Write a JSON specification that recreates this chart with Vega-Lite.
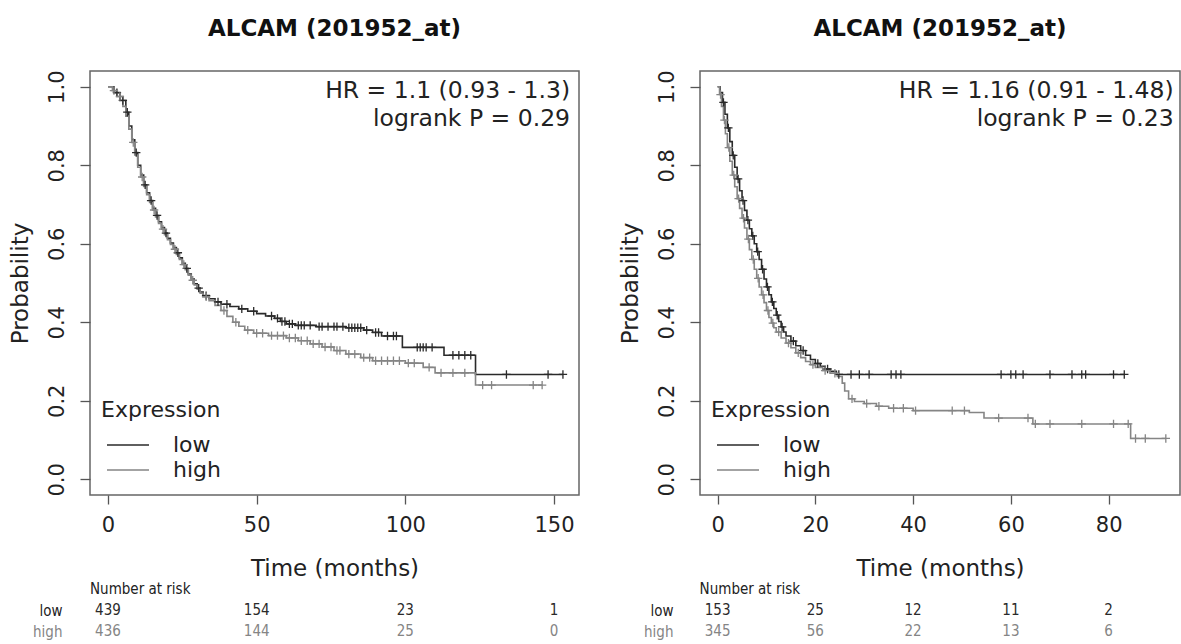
{
  "$schema": "https://vega.github.io/schema/vega-lite/v6.json",
  "padding": {"left": 8, "top": 17, "right": 0, "bottom": 0},
  "background": "white",
  "bounds": "flush",
  "spacing": 121,
  "config": {
    "font": "DejaVu Sans",
    "view": {"stroke": "#666666", "strokeWidth": 1.5},
    "axis": {"labelFont": "DejaVu Sans", "titleFont": "DejaVu Sans", "labelColor": "#222222", "titleColor": "#222222", "titleFontWeight": "normal", "grid": false, "domain": false, "tickColor": "#555555", "tickWidth": 1.3},
    "title": {"font": "DejaVu Sans", "fontSize": 23, "fontWeight": "bold", "color": "#111111", "anchor": "middle", "offset": 29}
  },
  "datasets": {
    "km": [
      {"p":"A","g":"low","t":0,"s":1,"c":0},{"p":"A","g":"low","t":2,"s":0.985,"c":0},{"p":"A","g":"low","t":4,"s":0.965,"c":0},{"p":"A","g":"low","t":6,"s":0.935,"c":0},{"p":"A","g":"low","t":7,"s":0.9,"c":0},{"p":"A","g":"low","t":8,"s":0.865,"c":0},{"p":"A","g":"low","t":9,"s":0.832,"c":0},{"p":"A","g":"low","t":10,"s":0.8,"c":0},{"p":"A","g":"low","t":11,"s":0.775,"c":0},{"p":"A","g":"low","t":12,"s":0.75,"c":0},{"p":"A","g":"low","t":13,"s":0.73,"c":0},{"p":"A","g":"low","t":14,"s":0.71,"c":0},{"p":"A","g":"low","t":15,"s":0.69,"c":0},{"p":"A","g":"low","t":16,"s":0.672,"c":0},{"p":"A","g":"low","t":17,"s":0.656,"c":0},{"p":"A","g":"low","t":18,"s":0.641,"c":0},{"p":"A","g":"low","t":19,"s":0.627,"c":0},{"p":"A","g":"low","t":20,"s":0.614,"c":0},{"p":"A","g":"low","t":21,"s":0.602,"c":0},{"p":"A","g":"low","t":22,"s":0.59,"c":0},{"p":"A","g":"low","t":23,"s":0.577,"c":0},{"p":"A","g":"low","t":24,"s":0.564,"c":0},{"p":"A","g":"low","t":25,"s":0.55,"c":0},{"p":"A","g":"low","t":26,"s":0.537,"c":0},{"p":"A","g":"low","t":27,"s":0.523,"c":0},{"p":"A","g":"low","t":28,"s":0.51,"c":0},{"p":"A","g":"low","t":29,"s":0.498,"c":0},{"p":"A","g":"low","t":30,"s":0.487,"c":0},{"p":"A","g":"low","t":31,"s":0.477,"c":0},{"p":"A","g":"low","t":32,"s":0.468,"c":0},{"p":"A","g":"low","t":34,"s":0.46,"c":0},{"p":"A","g":"low","t":36,"s":0.452,"c":0},{"p":"A","g":"low","t":38,"s":0.446,"c":0},{"p":"A","g":"low","t":41,"s":0.44,"c":0},{"p":"A","g":"low","t":44,"s":0.434,"c":0},{"p":"A","g":"low","t":47,"s":0.428,"c":0},{"p":"A","g":"low","t":50,"s":0.422,"c":0},{"p":"A","g":"low","t":53,"s":0.416,"c":0},{"p":"A","g":"low","t":56,"s":0.41,"c":0},{"p":"A","g":"low","t":58,"s":0.402,"c":0},{"p":"A","g":"low","t":60,"s":0.396,"c":0},{"p":"A","g":"low","t":63,"s":0.392,"c":0},{"p":"A","g":"low","t":70,"s":0.389,"c":0},{"p":"A","g":"low","t":80,"s":0.386,"c":0},{"p":"A","g":"low","t":86,"s":0.38,"c":0},{"p":"A","g":"low","t":89,"s":0.374,"c":0},{"p":"A","g":"low","t":92,"s":0.365,"c":0},{"p":"A","g":"low","t":99,"s":0.336,"c":0},{"p":"A","g":"low","t":113,"s":0.316,"c":0},{"p":"A","g":"low","t":123.6,"s":0.267,"c":0},
      {"p":"A","g":"low","t":3,"s":0.985,"c":1},{"p":"A","g":"low","t":5,"s":0.965,"c":1},{"p":"A","g":"low","t":6.5,"s":0.935,"c":1},{"p":"A","g":"low","t":9.5,"s":0.832,"c":1},{"p":"A","g":"low","t":12.5,"s":0.75,"c":1},{"p":"A","g":"low","t":14.5,"s":0.71,"c":1},{"p":"A","g":"low","t":16.5,"s":0.672,"c":1},{"p":"A","g":"low","t":19.5,"s":0.627,"c":1},{"p":"A","g":"low","t":23.5,"s":0.577,"c":1},{"p":"A","g":"low","t":26.5,"s":0.537,"c":1},{"p":"A","g":"low","t":30.5,"s":0.487,"c":1},{"p":"A","g":"low","t":33,"s":0.468,"c":1},{"p":"A","g":"low","t":37,"s":0.452,"c":1},{"p":"A","g":"low","t":40,"s":0.446,"c":1},{"p":"A","g":"low","t":45,"s":0.434,"c":1},{"p":"A","g":"low","t":49,"s":0.428,"c":1},{"p":"A","g":"low","t":55,"s":0.416,"c":1},{"p":"A","g":"low","t":57,"s":0.41,"c":1},{"p":"A","g":"low","t":58.5,"s":0.402,"c":1},{"p":"A","g":"low","t":59.5,"s":0.402,"c":1},{"p":"A","g":"low","t":61,"s":0.396,"c":1},{"p":"A","g":"low","t":62,"s":0.396,"c":1},{"p":"A","g":"low","t":64,"s":0.392,"c":1},{"p":"A","g":"low","t":65,"s":0.392,"c":1},{"p":"A","g":"low","t":66,"s":0.392,"c":1},{"p":"A","g":"low","t":68,"s":0.392,"c":1},{"p":"A","g":"low","t":71,"s":0.389,"c":1},{"p":"A","g":"low","t":72,"s":0.389,"c":1},{"p":"A","g":"low","t":74,"s":0.389,"c":1},{"p":"A","g":"low","t":76,"s":0.389,"c":1},{"p":"A","g":"low","t":77,"s":0.389,"c":1},{"p":"A","g":"low","t":79,"s":0.389,"c":1},{"p":"A","g":"low","t":81,"s":0.386,"c":1},{"p":"A","g":"low","t":82,"s":0.386,"c":1},{"p":"A","g":"low","t":83,"s":0.386,"c":1},{"p":"A","g":"low","t":84,"s":0.386,"c":1},{"p":"A","g":"low","t":85,"s":0.386,"c":1},{"p":"A","g":"low","t":87,"s":0.38,"c":1},{"p":"A","g":"low","t":90,"s":0.374,"c":1},{"p":"A","g":"low","t":91,"s":0.374,"c":1},{"p":"A","g":"low","t":94,"s":0.365,"c":1},{"p":"A","g":"low","t":96,"s":0.365,"c":1},{"p":"A","g":"low","t":97,"s":0.365,"c":1},{"p":"A","g":"low","t":104,"s":0.336,"c":1},{"p":"A","g":"low","t":105,"s":0.336,"c":1},{"p":"A","g":"low","t":106,"s":0.336,"c":1},{"p":"A","g":"low","t":107,"s":0.336,"c":1},{"p":"A","g":"low","t":109,"s":0.336,"c":1},{"p":"A","g":"low","t":116,"s":0.316,"c":1},{"p":"A","g":"low","t":118,"s":0.316,"c":1},{"p":"A","g":"low","t":120,"s":0.316,"c":1},{"p":"A","g":"low","t":122,"s":0.316,"c":1},{"p":"A","g":"low","t":134,"s":0.267,"c":1},{"p":"A","g":"low","t":148,"s":0.267,"c":1},{"p":"A","g":"low","t":153,"s":0.267,"c":1},
      {"p":"A","g":"high","t":0,"s":1,"c":0},{"p":"A","g":"high","t":1.5,"s":0.99,"c":0},{"p":"A","g":"high","t":3,"s":0.975,"c":0},{"p":"A","g":"high","t":5,"s":0.95,"c":0},{"p":"A","g":"high","t":6,"s":0.925,"c":0},{"p":"A","g":"high","t":7,"s":0.892,"c":0},{"p":"A","g":"high","t":8,"s":0.858,"c":0},{"p":"A","g":"high","t":9,"s":0.826,"c":0},{"p":"A","g":"high","t":10,"s":0.795,"c":0},{"p":"A","g":"high","t":11,"s":0.77,"c":0},{"p":"A","g":"high","t":12,"s":0.746,"c":0},{"p":"A","g":"high","t":13,"s":0.725,"c":0},{"p":"A","g":"high","t":14,"s":0.705,"c":0},{"p":"A","g":"high","t":15,"s":0.686,"c":0},{"p":"A","g":"high","t":16,"s":0.668,"c":0},{"p":"A","g":"high","t":17,"s":0.652,"c":0},{"p":"A","g":"high","t":18,"s":0.637,"c":0},{"p":"A","g":"high","t":19,"s":0.623,"c":0},{"p":"A","g":"high","t":20,"s":0.61,"c":0},{"p":"A","g":"high","t":21,"s":0.598,"c":0},{"p":"A","g":"high","t":22,"s":0.586,"c":0},{"p":"A","g":"high","t":23,"s":0.573,"c":0},{"p":"A","g":"high","t":24,"s":0.56,"c":0},{"p":"A","g":"high","t":25,"s":0.547,"c":0},{"p":"A","g":"high","t":26,"s":0.534,"c":0},{"p":"A","g":"high","t":27,"s":0.52,"c":0},{"p":"A","g":"high","t":28,"s":0.507,"c":0},{"p":"A","g":"high","t":29,"s":0.495,"c":0},{"p":"A","g":"high","t":30,"s":0.484,"c":0},{"p":"A","g":"high","t":31,"s":0.474,"c":0},{"p":"A","g":"high","t":32,"s":0.465,"c":0},{"p":"A","g":"high","t":34,"s":0.455,"c":0},{"p":"A","g":"high","t":36,"s":0.443,"c":0},{"p":"A","g":"high","t":38,"s":0.43,"c":0},{"p":"A","g":"high","t":40,"s":0.415,"c":0},{"p":"A","g":"high","t":42,"s":0.4,"c":0},{"p":"A","g":"high","t":44,"s":0.39,"c":0},{"p":"A","g":"high","t":46,"s":0.38,"c":0},{"p":"A","g":"high","t":49,"s":0.372,"c":0},{"p":"A","g":"high","t":54,"s":0.366,"c":0},{"p":"A","g":"high","t":60,"s":0.36,"c":0},{"p":"A","g":"high","t":64,"s":0.353,"c":0},{"p":"A","g":"high","t":68,"s":0.345,"c":0},{"p":"A","g":"high","t":72,"s":0.337,"c":0},{"p":"A","g":"high","t":76,"s":0.328,"c":0},{"p":"A","g":"high","t":80,"s":0.319,"c":0},{"p":"A","g":"high","t":85,"s":0.31,"c":0},{"p":"A","g":"high","t":89,"s":0.302,"c":0},{"p":"A","g":"high","t":100,"s":0.296,"c":0},{"p":"A","g":"high","t":106,"s":0.285,"c":0},{"p":"A","g":"high","t":110,"s":0.271,"c":0},{"p":"A","g":"high","t":123.6,"s":0.24,"c":0},
      {"p":"A","g":"high","t":2,"s":0.99,"c":1},{"p":"A","g":"high","t":4,"s":0.975,"c":1},{"p":"A","g":"high","t":8.5,"s":0.858,"c":1},{"p":"A","g":"high","t":11.5,"s":0.77,"c":1},{"p":"A","g":"high","t":15.5,"s":0.686,"c":1},{"p":"A","g":"high","t":18.5,"s":0.637,"c":1},{"p":"A","g":"high","t":22.5,"s":0.586,"c":1},{"p":"A","g":"high","t":25.5,"s":0.547,"c":1},{"p":"A","g":"high","t":28.5,"s":0.507,"c":1},{"p":"A","g":"high","t":33,"s":0.465,"c":1},{"p":"A","g":"high","t":39,"s":0.43,"c":1},{"p":"A","g":"high","t":43,"s":0.4,"c":1},{"p":"A","g":"high","t":47,"s":0.38,"c":1},{"p":"A","g":"high","t":50,"s":0.372,"c":1},{"p":"A","g":"high","t":52,"s":0.372,"c":1},{"p":"A","g":"high","t":55,"s":0.366,"c":1},{"p":"A","g":"high","t":57,"s":0.366,"c":1},{"p":"A","g":"high","t":59,"s":0.366,"c":1},{"p":"A","g":"high","t":61,"s":0.36,"c":1},{"p":"A","g":"high","t":63,"s":0.36,"c":1},{"p":"A","g":"high","t":65,"s":0.353,"c":1},{"p":"A","g":"high","t":67,"s":0.353,"c":1},{"p":"A","g":"high","t":69,"s":0.345,"c":1},{"p":"A","g":"high","t":71,"s":0.345,"c":1},{"p":"A","g":"high","t":73,"s":0.337,"c":1},{"p":"A","g":"high","t":75,"s":0.337,"c":1},{"p":"A","g":"high","t":77,"s":0.328,"c":1},{"p":"A","g":"high","t":78,"s":0.328,"c":1},{"p":"A","g":"high","t":81,"s":0.319,"c":1},{"p":"A","g":"high","t":83,"s":0.319,"c":1},{"p":"A","g":"high","t":86,"s":0.31,"c":1},{"p":"A","g":"high","t":88,"s":0.31,"c":1},{"p":"A","g":"high","t":90,"s":0.302,"c":1},{"p":"A","g":"high","t":92,"s":0.302,"c":1},{"p":"A","g":"high","t":94,"s":0.302,"c":1},{"p":"A","g":"high","t":96,"s":0.302,"c":1},{"p":"A","g":"high","t":98,"s":0.302,"c":1},{"p":"A","g":"high","t":101,"s":0.296,"c":1},{"p":"A","g":"high","t":103,"s":0.296,"c":1},{"p":"A","g":"high","t":108,"s":0.285,"c":1},{"p":"A","g":"high","t":112,"s":0.271,"c":1},{"p":"A","g":"high","t":116,"s":0.271,"c":1},{"p":"A","g":"high","t":120,"s":0.271,"c":1},{"p":"A","g":"high","t":126,"s":0.24,"c":1},{"p":"A","g":"high","t":129,"s":0.24,"c":1},{"p":"A","g":"high","t":143,"s":0.24,"c":1},{"p":"A","g":"high","t":146,"s":0.24,"c":1},
      {"p":"B","g":"low","t":0,"s":1,"c":0},{"p":"B","g":"low","t":0.5,"s":0.985,"c":0},{"p":"B","g":"low","t":1,"s":0.96,"c":0},{"p":"B","g":"low","t":1.5,"s":0.93,"c":0},{"p":"B","g":"low","t":2,"s":0.895,"c":0},{"p":"B","g":"low","t":2.5,"s":0.86,"c":0},{"p":"B","g":"low","t":3,"s":0.825,"c":0},{"p":"B","g":"low","t":3.5,"s":0.795,"c":0},{"p":"B","g":"low","t":4,"s":0.765,"c":0},{"p":"B","g":"low","t":4.5,"s":0.735,"c":0},{"p":"B","g":"low","t":5,"s":0.71,"c":0},{"p":"B","g":"low","t":5.5,"s":0.685,"c":0},{"p":"B","g":"low","t":6,"s":0.66,"c":0},{"p":"B","g":"low","t":6.5,"s":0.638,"c":0},{"p":"B","g":"low","t":7,"s":0.62,"c":0},{"p":"B","g":"low","t":7.5,"s":0.6,"c":0},{"p":"B","g":"low","t":8,"s":0.58,"c":0},{"p":"B","g":"low","t":8.5,"s":0.56,"c":0},{"p":"B","g":"low","t":9,"s":0.535,"c":0},{"p":"B","g":"low","t":9.5,"s":0.51,"c":0},{"p":"B","g":"low","t":10,"s":0.49,"c":0},{"p":"B","g":"low","t":10.5,"s":0.47,"c":0},{"p":"B","g":"low","t":11,"s":0.452,"c":0},{"p":"B","g":"low","t":11.5,"s":0.435,"c":0},{"p":"B","g":"low","t":12,"s":0.418,"c":0},{"p":"B","g":"low","t":12.5,"s":0.402,"c":0},{"p":"B","g":"low","t":13,"s":0.388,"c":0},{"p":"B","g":"low","t":13.5,"s":0.375,"c":0},{"p":"B","g":"low","t":14,"s":0.365,"c":0},{"p":"B","g":"low","t":15,"s":0.352,"c":0},{"p":"B","g":"low","t":16,"s":0.34,"c":0},{"p":"B","g":"low","t":17,"s":0.328,"c":0},{"p":"B","g":"low","t":18,"s":0.316,"c":0},{"p":"B","g":"low","t":19,"s":0.305,"c":0},{"p":"B","g":"low","t":20,"s":0.295,"c":0},{"p":"B","g":"low","t":21,"s":0.288,"c":0},{"p":"B","g":"low","t":22,"s":0.281,"c":0},{"p":"B","g":"low","t":23,"s":0.275,"c":0},{"p":"B","g":"low","t":24.3,"s":0.267,"c":0},
      {"p":"B","g":"low","t":1.2,"s":0.96,"c":1},{"p":"B","g":"low","t":2.2,"s":0.895,"c":1},{"p":"B","g":"low","t":3.2,"s":0.825,"c":1},{"p":"B","g":"low","t":4.2,"s":0.765,"c":1},{"p":"B","g":"low","t":5.2,"s":0.71,"c":1},{"p":"B","g":"low","t":6.2,"s":0.66,"c":1},{"p":"B","g":"low","t":7.2,"s":0.62,"c":1},{"p":"B","g":"low","t":8.2,"s":0.58,"c":1},{"p":"B","g":"low","t":9.2,"s":0.535,"c":1},{"p":"B","g":"low","t":10.2,"s":0.49,"c":1},{"p":"B","g":"low","t":11.2,"s":0.452,"c":1},{"p":"B","g":"low","t":12.2,"s":0.418,"c":1},{"p":"B","g":"low","t":13.2,"s":0.388,"c":1},{"p":"B","g":"low","t":15.5,"s":0.352,"c":1},{"p":"B","g":"low","t":17.5,"s":0.328,"c":1},{"p":"B","g":"low","t":20.5,"s":0.295,"c":1},{"p":"B","g":"low","t":22.5,"s":0.281,"c":1},{"p":"B","g":"low","t":24.8,"s":0.267,"c":1},{"p":"B","g":"low","t":27.3,"s":0.267,"c":1},{"p":"B","g":"low","t":29,"s":0.267,"c":1},{"p":"B","g":"low","t":31,"s":0.267,"c":1},{"p":"B","g":"low","t":35.5,"s":0.267,"c":1},{"p":"B","g":"low","t":36.5,"s":0.267,"c":1},{"p":"B","g":"low","t":37.5,"s":0.267,"c":1},{"p":"B","g":"low","t":58,"s":0.267,"c":1},{"p":"B","g":"low","t":60,"s":0.267,"c":1},{"p":"B","g":"low","t":61,"s":0.267,"c":1},{"p":"B","g":"low","t":62.5,"s":0.267,"c":1},{"p":"B","g":"low","t":68,"s":0.267,"c":1},{"p":"B","g":"low","t":72.5,"s":0.267,"c":1},{"p":"B","g":"low","t":74.5,"s":0.267,"c":1},{"p":"B","g":"low","t":75.3,"s":0.267,"c":1},{"p":"B","g":"low","t":81,"s":0.267,"c":1},{"p":"B","g":"low","t":83.2,"s":0.267,"c":1},
      {"p":"B","g":"high","t":0,"s":1,"c":0},{"p":"B","g":"high","t":0.4,"s":0.98,"c":0},{"p":"B","g":"high","t":0.8,"s":0.95,"c":0},{"p":"B","g":"high","t":1.2,"s":0.915,"c":0},{"p":"B","g":"high","t":1.6,"s":0.88,"c":0},{"p":"B","g":"high","t":2,"s":0.845,"c":0},{"p":"B","g":"high","t":2.5,"s":0.81,"c":0},{"p":"B","g":"high","t":3,"s":0.775,"c":0},{"p":"B","g":"high","t":3.5,"s":0.745,"c":0},{"p":"B","g":"high","t":4,"s":0.715,"c":0},{"p":"B","g":"high","t":4.5,"s":0.69,"c":0},{"p":"B","g":"high","t":5,"s":0.665,"c":0},{"p":"B","g":"high","t":5.5,"s":0.64,"c":0},{"p":"B","g":"high","t":6,"s":0.612,"c":0},{"p":"B","g":"high","t":6.5,"s":0.585,"c":0},{"p":"B","g":"high","t":7,"s":0.56,"c":0},{"p":"B","g":"high","t":7.5,"s":0.535,"c":0},{"p":"B","g":"high","t":8,"s":0.512,"c":0},{"p":"B","g":"high","t":8.5,"s":0.49,"c":0},{"p":"B","g":"high","t":9,"s":0.47,"c":0},{"p":"B","g":"high","t":9.5,"s":0.45,"c":0},{"p":"B","g":"high","t":10,"s":0.43,"c":0},{"p":"B","g":"high","t":10.5,"s":0.412,"c":0},{"p":"B","g":"high","t":11,"s":0.398,"c":0},{"p":"B","g":"high","t":11.5,"s":0.386,"c":0},{"p":"B","g":"high","t":12,"s":0.375,"c":0},{"p":"B","g":"high","t":13,"s":0.36,"c":0},{"p":"B","g":"high","t":14,"s":0.347,"c":0},{"p":"B","g":"high","t":15,"s":0.335,"c":0},{"p":"B","g":"high","t":16,"s":0.322,"c":0},{"p":"B","g":"high","t":17,"s":0.31,"c":0},{"p":"B","g":"high","t":18,"s":0.3,"c":0},{"p":"B","g":"high","t":19,"s":0.292,"c":0},{"p":"B","g":"high","t":20,"s":0.285,"c":0},{"p":"B","g":"high","t":21.5,"s":0.277,"c":0},{"p":"B","g":"high","t":23,"s":0.27,"c":0},{"p":"B","g":"high","t":24.5,"s":0.262,"c":0},{"p":"B","g":"high","t":25.5,"s":0.245,"c":0},{"p":"B","g":"high","t":26,"s":0.225,"c":0},{"p":"B","g":"high","t":26.8,"s":0.205,"c":0},{"p":"B","g":"high","t":28,"s":0.198,"c":0},{"p":"B","g":"high","t":30,"s":0.193,"c":0},{"p":"B","g":"high","t":32.5,"s":0.186,"c":0},{"p":"B","g":"high","t":35,"s":0.181,"c":0},{"p":"B","g":"high","t":40,"s":0.175,"c":0},{"p":"B","g":"high","t":51.5,"s":0.17,"c":0},{"p":"B","g":"high","t":54.5,"s":0.156,"c":0},{"p":"B","g":"high","t":64.5,"s":0.141,"c":0},{"p":"B","g":"high","t":84.5,"s":0.104,"c":0},
      {"p":"B","g":"high","t":0.6,"s":0.98,"c":1},{"p":"B","g":"high","t":1.4,"s":0.915,"c":1},{"p":"B","g":"high","t":2.3,"s":0.845,"c":1},{"p":"B","g":"high","t":3.3,"s":0.775,"c":1},{"p":"B","g":"high","t":4.3,"s":0.715,"c":1},{"p":"B","g":"high","t":5.3,"s":0.665,"c":1},{"p":"B","g":"high","t":6.3,"s":0.612,"c":1},{"p":"B","g":"high","t":7.3,"s":0.56,"c":1},{"p":"B","g":"high","t":8.3,"s":0.512,"c":1},{"p":"B","g":"high","t":9.3,"s":0.47,"c":1},{"p":"B","g":"high","t":10.3,"s":0.43,"c":1},{"p":"B","g":"high","t":11.3,"s":0.398,"c":1},{"p":"B","g":"high","t":12.5,"s":0.375,"c":1},{"p":"B","g":"high","t":14.5,"s":0.347,"c":1},{"p":"B","g":"high","t":16.5,"s":0.322,"c":1},{"p":"B","g":"high","t":19.5,"s":0.292,"c":1},{"p":"B","g":"high","t":22,"s":0.277,"c":1},{"p":"B","g":"high","t":24,"s":0.27,"c":1},{"p":"B","g":"high","t":27.5,"s":0.205,"c":1},{"p":"B","g":"high","t":30.5,"s":0.193,"c":1},{"p":"B","g":"high","t":33,"s":0.186,"c":1},{"p":"B","g":"high","t":36,"s":0.181,"c":1},{"p":"B","g":"high","t":38,"s":0.181,"c":1},{"p":"B","g":"high","t":40.5,"s":0.175,"c":1},{"p":"B","g":"high","t":48,"s":0.175,"c":1},{"p":"B","g":"high","t":50.5,"s":0.175,"c":1},{"p":"B","g":"high","t":57.5,"s":0.156,"c":1},{"p":"B","g":"high","t":63.5,"s":0.156,"c":1},{"p":"B","g":"high","t":65,"s":0.141,"c":1},{"p":"B","g":"high","t":68,"s":0.141,"c":1},{"p":"B","g":"high","t":74.5,"s":0.141,"c":1},{"p":"B","g":"high","t":81,"s":0.141,"c":1},{"p":"B","g":"high","t":84,"s":0.141,"c":1},{"p":"B","g":"high","t":85.5,"s":0.104,"c":1},{"p":"B","g":"high","t":87.5,"s":0.104,"c":1},{"p":"B","g":"high","t":91.7,"s":0.104,"c":1}
    ],
    "risk": [
      {"p":"A","g":"hdr","t":0,"n":"Number at risk"},
      {"p":"A","g":"low","t":0,"n":"439"},{"p":"A","g":"low","t":50,"n":"154"},{"p":"A","g":"low","t":100,"n":"23"},{"p":"A","g":"low","t":150,"n":"1"},
      {"p":"A","g":"high","t":0,"n":"436"},{"p":"A","g":"high","t":50,"n":"144"},{"p":"A","g":"high","t":100,"n":"25"},{"p":"A","g":"high","t":150,"n":"0"},
      {"p":"B","g":"hdr","t":0,"n":"Number at risk"},
      {"p":"B","g":"low","t":0,"n":"153"},{"p":"B","g":"low","t":20,"n":"25"},{"p":"B","g":"low","t":40,"n":"12"},{"p":"B","g":"low","t":60,"n":"11"},{"p":"B","g":"low","t":80,"n":"2"},
      {"p":"B","g":"high","t":0,"n":"345"},{"p":"B","g":"high","t":20,"n":"56"},{"p":"B","g":"high","t":40,"n":"22"},{"p":"B","g":"high","t":60,"n":"13"},{"p":"B","g":"high","t":80,"n":"6"}
    ]
  },
  "resolve": {"scale": {"color": "independent"}, "legend": {"color": "independent"}},
  "hconcat": [
    {
      "width": 489,
      "height": 424,
      "title": {"text": "ALCAM (201952_at)"},
      "resolve": {"scale": {"y": "independent"}},
      "layer": [
        {
          "layer": [
            {
              "data": {"name": "km"},
              "transform": [{"filter": "datum.p === 'A'"}],
              "mark": {"type": "line", "interpolate": "step-after", "strokeWidth": 1.6},
              "encoding": {
                "x": {"field": "t", "type": "quantitative", "scale": {"domain": [-6.05, 158.4], "nice": false, "zero": false},
                  "axis": {"values": [0, 50, 100, 150], "title": "Time (months)", "titleFontSize": 23, "labelFontSize": 21, "tickSize": 9, "labelPadding": 10, "titlePadding": 22}},
                "y": {"field": "s", "type": "quantitative", "scale": {"domain": [-0.04, 1.04], "nice": false, "zero": false},
                  "axis": {"values": [0, 0.2, 0.4, 0.6, 0.8, 1], "format": ".1f", "title": "Probability", "titleFontSize": 23, "labelFontSize": 21, "labelAngle": -90, "labelAlign": "center", "labelBaseline": "bottom", "tickSize": 10, "labelPadding": 13, "titlePadding": 14}},
                "color": {"field": "g", "type": "nominal", "scale": {"domain": ["low", "high"], "range": ["#2a2a2a", "#858585"]},
                  "legend": {"orient": "none", "legendX": 11, "legendY": 329, "title": "Expression", "titleFontSize": 22, "titleFontWeight": "normal", "titleColor": "#222222", "titleFont": "DejaVu Sans", "labelFontSize": 22, "labelFont": "DejaVu Sans", "labelColor": "#222222", "symbolType": "M-3,0H3", "symbolSize": 196, "symbolStrokeWidth": 1.6, "symbolOffset": 16, "labelOffset": 34, "rowPadding": 3, "titlePadding": 12, "padding": 0}}
              }
            },
            {
              "data": {"name": "km"},
              "transform": [{"filter": "datum.p === 'A' && datum.c === 1"}],
              "mark": {"type": "point", "shape": "M-1,0H1M0,-1V1", "filled": false, "size": 70, "strokeWidth": 1.3, "opacity": 1},
              "encoding": {
                "x": {"field": "t", "type": "quantitative"},
                "y": {"field": "s", "type": "quantitative"},
                "color": {"field": "g", "type": "nominal", "legend": null}
              }
            },
            {
              "data": {"values": [{}]},
              "mark": {"type": "text", "text": ["HR = 1.1 (0.93 - 1.3)", "logrank P = 0.29"], "align": "right", "baseline": "top", "fontSize": 23.5, "lineHeight": 28, "color": "#222222", "font": "DejaVu Sans"},
              "encoding": {
                "x": {"datum": 155.4},
                "y": {"datum": 1.02}
              }
            }
          ]
        },
        {
          "data": {"name": "risk"},
          "transform": [{"filter": "datum.p === 'A'"}],
          "layer": [
            {
              "transform": [{"filter": "datum.g !== 'hdr'"}],
              "mark": {"type": "text", "font": "DejaVu Sans Condensed", "fontSize": 15, "align": "center", "baseline": "middle"},
              "encoding": {
                "x": {"field": "t", "type": "quantitative"},
                "y": {"field": "g", "type": "nominal", "scale": {"type": "point", "domain": ["hdr", "low", "high"], "range": [518, 560], "padding": 0},
                  "axis": {"orient": "left", "title": null, "domain": false, "ticks": false, "labelPadding": 28, "labelFontSize": 15, "labelFont": "DejaVu Sans Condensed", "labelExpr": "datum.value === 'hdr' ? '' : datum.value", "labelColor": {"condition": {"test": "datum.value === 'high'", "value": "#858585"}, "value": "#222222"}}},
                "text": {"field": "n"},
                "color": {"field": "g", "type": "nominal", "legend": null}
              }
            },
            {
              "transform": [{"filter": "datum.g === 'hdr'"}],
              "mark": {"type": "text", "font": "DejaVu Sans Condensed", "fontSize": 15, "align": "left", "baseline": "middle", "dx": -18, "color": "#222222"},
              "encoding": {
                "x": {"field": "t", "type": "quantitative"},
                "y": {"field": "g", "type": "nominal"},
                "text": {"field": "n"}
              }
            }
          ]
        }
      ]
    },
    {
      "width": 480,
      "height": 424,
      "title": {"text": "ALCAM (201952_at)"},
      "resolve": {"scale": {"y": "independent"}},
      "layer": [
        {
          "layer": [
            {
              "data": {"name": "km"},
              "transform": [{"filter": "datum.p === 'B'"}],
              "mark": {"type": "line", "interpolate": "step-after", "strokeWidth": 1.6},
              "encoding": {
                "x": {"field": "t", "type": "quantitative", "scale": {"domain": [-3.6, 94.6], "nice": false, "zero": false},
                  "axis": {"values": [0, 20, 40, 60, 80], "title": "Time (months)", "titleFontSize": 23, "labelFontSize": 21, "tickSize": 9, "labelPadding": 10, "titlePadding": 22}},
                "y": {"field": "s", "type": "quantitative", "scale": {"domain": [-0.04, 1.04], "nice": false, "zero": false},
                  "axis": {"values": [0, 0.2, 0.4, 0.6, 0.8, 1], "format": ".1f", "title": "Probability", "titleFontSize": 23, "labelFontSize": 21, "labelAngle": -90, "labelAlign": "center", "labelBaseline": "bottom", "tickSize": 10, "labelPadding": 13, "titlePadding": 14}},
                "color": {"field": "g", "type": "nominal", "scale": {"domain": ["low", "high"], "range": ["#2a2a2a", "#858585"]},
                  "legend": {"orient": "none", "legendX": 11, "legendY": 329, "title": "Expression", "titleFontSize": 22, "titleFontWeight": "normal", "titleColor": "#222222", "titleFont": "DejaVu Sans", "labelFontSize": 22, "labelFont": "DejaVu Sans", "labelColor": "#222222", "symbolType": "M-3,0H3", "symbolSize": 196, "symbolStrokeWidth": 1.6, "symbolOffset": 16, "labelOffset": 34, "rowPadding": 3, "titlePadding": 12, "padding": 0}}
              }
            },
            {
              "data": {"name": "km"},
              "transform": [{"filter": "datum.p === 'B' && datum.c === 1"}],
              "mark": {"type": "point", "shape": "M-1,0H1M0,-1V1", "filled": false, "size": 70, "strokeWidth": 1.3, "opacity": 1},
              "encoding": {
                "x": {"field": "t", "type": "quantitative"},
                "y": {"field": "s", "type": "quantitative"},
                "color": {"field": "g", "type": "nominal", "legend": null}
              }
            },
            {
              "data": {"values": [{}]},
              "mark": {"type": "text", "text": ["HR = 1.16 (0.91 - 1.48)", "logrank P = 0.23"], "align": "right", "baseline": "top", "fontSize": 23.5, "lineHeight": 28, "color": "#222222", "font": "DejaVu Sans"},
              "encoding": {
                "x": {"datum": 93.3},
                "y": {"datum": 1.02}
              }
            }
          ]
        },
        {
          "data": {"name": "risk"},
          "transform": [{"filter": "datum.p === 'B'"}],
          "layer": [
            {
              "transform": [{"filter": "datum.g !== 'hdr'"}],
              "mark": {"type": "text", "font": "DejaVu Sans Condensed", "fontSize": 15, "align": "center", "baseline": "middle"},
              "encoding": {
                "x": {"field": "t", "type": "quantitative"},
                "y": {"field": "g", "type": "nominal", "scale": {"type": "point", "domain": ["hdr", "low", "high"], "range": [518, 560], "padding": 0},
                  "axis": {"orient": "left", "title": null, "domain": false, "ticks": false, "labelPadding": 27, "labelFontSize": 15, "labelFont": "DejaVu Sans Condensed", "labelExpr": "datum.value === 'hdr' ? '' : datum.value", "labelColor": {"condition": {"test": "datum.value === 'high'", "value": "#858585"}, "value": "#222222"}}},
                "text": {"field": "n"},
                "color": {"field": "g", "type": "nominal", "legend": null}
              }
            },
            {
              "transform": [{"filter": "datum.g === 'hdr'"}],
              "mark": {"type": "text", "font": "DejaVu Sans Condensed", "fontSize": 15, "align": "left", "baseline": "middle", "dx": -18, "color": "#222222"},
              "encoding": {
                "x": {"field": "t", "type": "quantitative"},
                "y": {"field": "g", "type": "nominal"},
                "text": {"field": "n"}
              }
            }
          ]
        }
      ]
    }
  ]
}
